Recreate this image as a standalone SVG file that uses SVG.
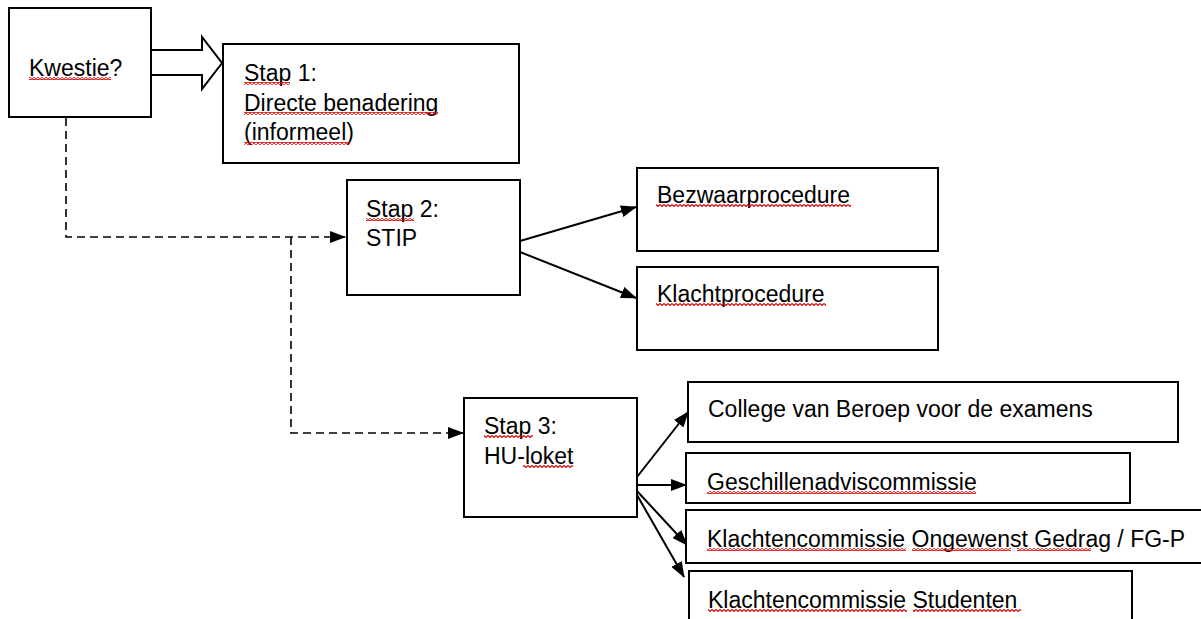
<svg xmlns="http://www.w3.org/2000/svg" width="1201" height="619" viewBox="0 0 1201 619">
<style>
.box{fill:#fff;stroke:#000;stroke-width:2}
.t{font-family:"Liberation Sans",Arial,sans-serif;font-size:23px;fill:#000}
.ln{stroke:#000;stroke-width:2;fill:none}
.dash{stroke:#000;stroke-width:1.6;fill:none;stroke-dasharray:8 5}
.sq{fill:url(#wave)}
</style>
<defs>
<pattern id="wave" patternUnits="userSpaceOnUse" width="4" height="3">
<path d="M0,0.5 L2,2.5 L4,0.5" stroke="#e00000" stroke-width="1.1" fill="none"/>
</pattern>
<marker id="ah" markerWidth="16" markerHeight="12" refX="15" refY="6" orient="auto" markerUnits="userSpaceOnUse">
<path d="M0,0 L16,6 L0,12 Z" fill="#000"/>
</marker>
</defs>
<rect width="1201" height="619" fill="#fff"/>

<g id="connectors">
<path d="M151,50 H202 V37 L222,63 L202,89 V75 H151" fill="#fff" stroke="#000" stroke-width="2"/>
<path class="dash" d="M66,118 V237 H345" marker-end="url(#ah)"/>
<path class="dash" d="M291,237 V433 H463" marker-end="url(#ah)"/>
<line class="ln" x1="520" y1="241" x2="636" y2="207" marker-end="url(#ah)"/>
<line class="ln" x1="520" y1="252" x2="636" y2="298" marker-end="url(#ah)"/>
<line class="ln" x1="637" y1="477" x2="688" y2="412" marker-end="url(#ah)"/>
<line class="ln" x1="637" y1="485" x2="686" y2="485" marker-end="url(#ah)"/>
<line class="ln" x1="637" y1="491" x2="687" y2="545" marker-end="url(#ah)"/>
<line class="ln" x1="637" y1="495" x2="684" y2="577" marker-end="url(#ah)"/>
</g>

<g id="kwestie">
<rect class="box" x="9" y="8" width="142" height="109"/>
<text class="t" x="29" y="76">Kwestie?</text>
<rect class="sq" x="29" y="77" width="82" height="3"/>
</g>

<g id="stap1">
<rect class="box" x="223" y="44" width="296" height="119"/>
<text class="t" x="244" y="81">Stap 1:</text>
<text class="t" x="244" y="111">Directe benadering</text>
<text class="t" x="244" y="140">(informeel)</text>
<rect class="sq" x="244" y="82" width="46" height="3"/>
<rect class="sq" x="244" y="112" width="194" height="3"/>
<rect class="sq" x="244" y="142" width="106" height="3"/>
</g>

<g id="stap2">
<rect class="box" x="347" y="180" width="173" height="115"/>
<text class="t" x="366" y="217">Stap 2:</text>
<text class="t" x="366" y="246">STIP</text>
<rect class="sq" x="366" y="218" width="48" height="3"/>
</g>

<g id="bezwaar">
<rect class="box" x="637" y="168" width="301" height="83"/>
<text class="t" x="657" y="203">Bezwaarprocedure</text>
<rect class="sq" x="656" y="204" width="195" height="3"/>
</g>

<g id="klacht">
<rect class="box" x="637" y="267" width="301" height="83"/>
<text class="t" x="657" y="302">Klachtprocedure</text>
<rect class="sq" x="656" y="303" width="170" height="3"/>
</g>

<g id="stap3">
<rect class="box" x="464" y="398" width="173" height="119"/>
<text class="t" x="484" y="434">Stap 3:</text>
<text class="t" x="484" y="464">HU-loket</text>
<rect class="sq" x="484" y="435" width="49" height="3"/>
<rect class="sq" x="523" y="465" width="50" height="3"/>
</g>

<g id="college">
<rect class="box" x="688" y="382" width="490" height="60"/>
<text class="t" x="708" y="417">College van Beroep voor de examens</text>
</g>

<g id="geschillen">
<rect class="box" x="686" y="453" width="444" height="50"/>
<text class="t" x="707" y="490">Geschillenadviscommissie</text>
<rect class="sq" x="707" y="491" width="269" height="3"/>
</g>

<g id="klachtencommissie-og">
<rect class="box" x="686" y="510" width="518" height="53"/>
<text class="t" x="707" y="547">Klachtencommissie Ongewenst Gedrag / FG-P</text>
<rect class="sq" x="707" y="548" width="199" height="3"/>
<rect class="sq" x="912" y="548" width="99" height="3"/>
<rect class="sq" x="1017" y="548" width="74" height="3"/>
</g>

<g id="klachtencommissie-studenten">
<rect class="box" x="689" y="571" width="443" height="60"/>
<text class="t" x="708" y="608">Klachtencommissie Studenten</text>
<rect class="sq" x="708" y="609" width="199" height="3"/>
<rect class="sq" x="913" y="609" width="108" height="3"/>
</g>
</svg>
